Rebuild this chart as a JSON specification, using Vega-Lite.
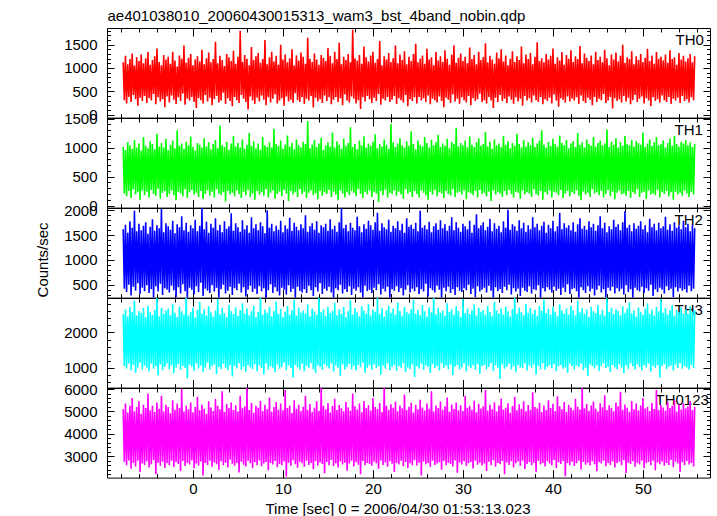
{
"$schema":"https://vega.github.io/schema/vega-lite/v6.json",
"background":"white",
"padding":{"left":34,"top":8,"right":5,"bottom":5},
"spacing":0,
"bounds":"flush",
"config":{"view":{"stroke":"#000","strokeWidth":1},"axis":{"zindex":1,"domain":false,"grid":false,"tickColor":"#000","tickWidth":1,"labelFont":"Liberation Sans","labelFontSize":15,"labelColor":"#000","labelFlush":false,"format":"d","titleFont":"Liberation Sans","titleFontSize":15,"titleFontWeight":"normal","titleColor":"#000"}},
"datasets":{"rows":[
{"t":-7.75,"a":1120,"b":1010,"c":1620,"d":2520,"e":5100},
{"t":-7.625,"a":310,"b":210,"c":420,"d":1050,"e":2750},
{"t":-7.5,"a":1260,"b":960,"c":1710,"d":2650,"e":5350},
{"t":-7.375,"a":240,"b":160,"c":350,"d":980,"e":2600},
{"t":-7.25,"a":1080,"b":1090,"c":1550,"d":2450,"e":4950},
{"t":-7.125,"a":380,"b":250,"c":500,"d":1120,"e":2820},
{"t":-7,"a":1190,"b":1040,"c":1780,"d":2720,"e":5250},
{"t":-6.875,"a":270,"b":130,"c":280,"d":920,"e":2450},
{"t":-6.75,"a":1310,"b":980,"c":1650,"d":2580,"e":5600},
{"t":-6.625,"a":420,"b":280,"c":460,"d":1080,"e":2700},
{"t":-6.5,"a":1050,"b":1130,"c":1990,"d":2900,"e":5000},
{"t":-6.375,"a":330,"b":190,"c":380,"d":860,"e":2550},
{"t":-6.25,"a":1230,"b":1000,"c":1580,"d":2480,"e":5200},
{"t":-6.125,"a":190,"b":230,"c":530,"d":1010,"e":2800},
{"t":-6,"a":1150,"b":1070,"c":1730,"d":2610,"e":5450},
{"t":-5.875,"a":360,"b":100,"c":310,"d":1140,"e":2300},
{"t":-5.75,"a":1290,"b":950,"c":1600,"d":2550,"e":4900},
{"t":-5.625,"a":290,"b":260,"c":440,"d":950,"e":2680},
{"t":-5.5,"a":1100,"b":1180,"c":1690,"d":2690,"e":5300},
{"t":-5.375,"a":400,"b":180,"c":370,"d":1060,"e":2620},
{"t":-5.25,"a":1210,"b":1030,"c":1760,"d":2430,"e":5150},
{"t":-5.125,"a":250,"b":240,"c":490,"d":1000,"e":2780},
{"t":-5,"a":1340,"b":990,"c":1530,"d":2760,"e":5800},
{"t":-4.875,"a":350,"b":140,"c":330,"d":890,"e":2500},
{"t":-4.75,"a":1070,"b":1110,"c":1670,"d":2570,"e":5050},
{"t":-4.625,"a":300,"b":270,"c":410,"d":1110,"e":2650},
{"t":-4.5,"a":1170,"b":1060,"c":1820,"d":2500,"e":5250},
{"t":-4.375,"a":440,"b":200,"c":220,"d":970,"e":2840},
{"t":-4.25,"a":1250,"b":970,"c":1590,"d":2640,"e":4980},
{"t":-4.125,"a":220,"b":170,"c":470,"d":1040,"e":2200},
{"t":-4,"a":1420,"b":1240,"c":1700,"d":2980,"e":5400},
{"t":-3.875,"a":370,"b":290,"c":360,"d":780,"e":2720},
{"t":-3.75,"a":1130,"b":1020,"c":1640,"d":2460,"e":5120},
{"t":-3.625,"a":280,"b":120,"c":520,"d":1090,"e":2580},
{"t":-3.5,"a":1060,"b":1080,"c":2030,"d":2700,"e":5700},
{"t":-3.375,"a":330,"b":220,"c":290,"d":930,"e":2760},
{"t":-3.25,"a":1280,"b":1000,"c":1560,"d":2530,"e":5000},
{"t":-3.125,"a":160,"b":250,"c":430,"d":1020,"e":2480},
{"t":-3,"a":1180,"b":1150,"c":1740,"d":2620,"e":5300},
{"t":-2.875,"a":390,"b":150,"c":400,"d":1130,"e":2690},
{"t":-2.75,"a":1240,"b":960,"c":1680,"d":2680,"e":5200},
{"t":-2.625,"a":260,"b":200,"c":340,"d":960,"e":2610},
{"t":-2.5,"a":1090,"b":1050,"c":1610,"d":2490,"e":4920},
{"t":-2.375,"a":410,"b":260,"c":480,"d":1070,"e":2800},
{"t":-2.25,"a":1350,"b":1120,"c":1790,"d":2810,"e":5500},
{"t":-2.125,"a":320,"b":180,"c":390,"d":840,"e":2530},
{"t":-2,"a":1160,"b":990,"c":1540,"d":2560,"e":5080},
{"t":-1.875,"a":230,"b":90,"c":250,"d":1010,"e":2740},
{"t":-1.75,"a":1030,"b":1300,"c":1720,"d":2440,"e":5350},
{"t":-1.625,"a":370,"b":240,"c":450,"d":1100,"e":2660},
{"t":-1.5,"a":1270,"b":1030,"c":1660,"d":2730,"e":5150},
{"t":-1.375,"a":290,"b":210,"c":320,"d":940,"e":2350},
{"t":-1.25,"a":1200,"b":1070,"c":1880,"d":2600,"e":6000},
{"t":-1.125,"a":450,"b":160,"c":510,"d":1050,"e":2790},
{"t":-1,"a":1480,"b":980,"c":1600,"d":2510,"e":5000},
{"t":-0.875,"a":210,"b":280,"c":370,"d":990,"e":2570},
{"t":-0.75,"a":1110,"b":1100,"c":1750,"d":3050,"e":5250},
{"t":-0.625,"a":340,"b":130,"c":190,"d":700,"e":2710},
{"t":-0.5,"a":1220,"b":1040,"c":1570,"d":2470,"e":5100},
{"t":-0.375,"a":300,"b":230,"c":440,"d":1080,"e":2640},
{"t":-0.25,"a":1300,"b":1190,"c":1700,"d":2590,"e":5400},
{"t":-0.125,"a":380,"b":270,"c":400,"d":1030,"e":2830},
{"t":0,"a":1060,"b":1010,"c":1640,"d":2700,"e":4960},
{"t":0.125,"a":270,"b":190,"c":300,"d":910,"e":2460},
{"t":0.25,"a":1180,"b":950,"c":1810,"d":2420,"e":5200},
{"t":0.375,"a":140,"b":220,"c":470,"d":1120,"e":2680},
{"t":0.5,"a":1250,"b":1080,"c":1580,"d":2640,"e":5650},
{"t":0.625,"a":350,"b":150,"c":350,"d":980,"e":2590},
{"t":0.75,"a":1140,"b":1050,"c":1690,"d":2870,"e":5050},
{"t":0.875,"a":310,"b":250,"c":540,"d":1060,"e":2770},
{"t":1,"a":1390,"b":1000,"c":2050,"d":2530,"e":5300},
{"t":1.125,"a":240,"b":110,"c":270,"d":870,"e":2150},
{"t":1.25,"a":1080,"b":1160,"c":1620,"d":2660,"e":5120},
{"t":1.375,"a":420,"b":200,"c":420,"d":1000,"e":2700},
{"t":1.5,"a":1210,"b":1020,"c":1770,"d":2480,"e":4900},
{"t":1.625,"a":280,"b":260,"c":380,"d":1140,"e":2620},
{"t":1.75,"a":1330,"b":1090,"c":1550,"d":2740,"e":5450},
{"t":1.875,"a":360,"b":170,"c":330,"d":950,"e":2810},
{"t":2,"a":1120,"b":970,"c":1730,"d":2570,"e":5180},
{"t":2.125,"a":200,"b":240,"c":490,"d":1040,"e":2540},
{"t":2.25,"a":1190,"b":1060,"c":1650,"d":2450,"e":5020},
{"t":2.375,"a":330,"b":140,"c":360,"d":1090,"e":2730},
{"t":2.5,"a":1560,"b":1130,"c":1840,"d":2620,"e":5550},
{"t":2.625,"a":400,"b":280,"c":440,"d":820,"e":2650},
{"t":2.75,"a":1100,"b":990,"c":1600,"d":2950,"e":5250},
{"t":2.875,"a":260,"b":210,"c":210,"d":1020,"e":2400},
{"t":3,"a":1260,"b":1380,"c":1710,"d":2510,"e":5100},
{"t":3.125,"a":300,"b":180,"c":410,"d":960,"e":2780},
{"t":3.25,"a":1170,"b":1040,"c":1560,"d":2690,"e":5900},
{"t":3.375,"a":470,"b":230,"c":500,"d":1110,"e":2600},
{"t":3.5,"a":1040,"b":1010,"c":1780,"d":2550,"e":4980},
{"t":3.625,"a":230,"b":70,"c":320,"d":1000,"e":2720},
{"t":3.75,"a":1300,"b":1100,"c":1630,"d":2440,"e":5330},
{"t":3.875,"a":350,"b":250,"c":380,"d":930,"e":2510},
{"t":4,"a":1230,"b":960,"c":1680,"d":2780,"e":5150},
{"t":4.125,"a":290,"b":190,"c":460,"d":1070,"e":2850},
{"t":4.25,"a":1150,"b":1070,"c":1940,"d":2600,"e":5400},
{"t":4.375,"a":180,"b":220,"c":290,"d":750,"e":2670},
{"t":4.5,"a":1370,"b":1200,"c":1590,"d":2520,"e":5060},
{"t":4.625,"a":380,"b":160,"c":430,"d":1050,"e":2580},
{"t":4.75,"a":1090,"b":1020,"c":1740,"d":2710,"e":5280},
{"t":4.875,"a":310,"b":260,"c":390,"d":980,"e":2700},
{"t":5,"a":1240,"b":1080,"c":1660,"d":2470,"e":5000},
{"t":5.125,"a":250,"b":200,"c":520,"d":1130,"e":2280},
{"t":5.25,"a":1800,"b":1000,"c":1570,"d":2630,"e":5700},
{"t":5.375,"a":420,"b":130,"c":340,"d":940,"e":2760},
{"t":5.5,"a":1130,"b":1140,"c":1800,"d":2830,"e":5140},
{"t":5.625,"a":340,"b":240,"c":450,"d":1030,"e":2630},
{"t":5.75,"a":1280,"b":980,"c":1620,"d":2540,"e":5220},
{"t":5.875,"a":270,"b":180,"c":260,"d":880,"e":2550},
{"t":6,"a":1200,"b":1050,"c":1700,"d":2680,"e":6100},
{"t":6.125,"a":110,"b":270,"c":400,"d":1080,"e":2800},
{"t":6.25,"a":1060,"b":1250,"c":1550,"d":2490,"e":5060},
{"t":6.375,"a":390,"b":150,"c":480,"d":1010,"e":2690},
{"t":6.5,"a":1450,"b":1030,"c":1860,"d":2600,"e":5380},
{"t":6.625,"a":300,"b":210,"c":350,"d":960,"e":2470},
{"t":6.75,"a":1170,"b":1110,"c":1640,"d":2760,"e":4940},
{"t":6.875,"a":230,"b":100,"c":420,"d":1100,"e":2740},
{"t":7,"a":1250,"b":990,"c":1720,"d":2430,"e":5250},
{"t":7.125,"a":360,"b":250,"c":310,"d":900,"e":2610},
{"t":7.25,"a":1320,"b":1070,"c":1600,"d":2580,"e":5160},
{"t":7.375,"a":280,"b":190,"c":470,"d":1060,"e":2820},
{"t":7.5,"a":1110,"b":960,"c":1760,"d":3000,"e":5480},
{"t":7.625,"a":410,"b":230,"c":370,"d":990,"e":2560},
{"t":7.75,"a":1190,"b":1180,"c":1680,"d":2500,"e":5020},
{"t":7.875,"a":320,"b":170,"c":430,"d":810,"e":2680},
{"t":8,"a":1600,"b":1040,"c":1540,"d":2650,"e":5300},
{"t":8.125,"a":200,"b":280,"c":180,"d":1120,"e":2750},
{"t":8.25,"a":1080,"b":1010,"c":2000,"d":2560,"e":5100},
{"t":8.375,"a":370,"b":140,"c":390,"d":950,"e":2380},
{"t":8.5,"a":1230,"b":1090,"c":1650,"d":2720,"e":5620},
{"t":8.625,"a":260,"b":220,"c":510,"d":1040,"e":2710},
{"t":8.75,"a":1350,"b":1000,"c":1730,"d":2460,"e":4990},
{"t":8.875,"a":340,"b":260,"c":330,"d":1000,"e":2640},
{"t":9,"a":1140,"b":1320,"c":1580,"d":2610,"e":5200},
{"t":9.125,"a":430,"b":120,"c":450,"d":870,"e":2790},
{"t":9.25,"a":1260,"b":1060,"c":1690,"d":2880,"e":5420},
{"t":9.375,"a":240,"b":200,"c":360,"d":1090,"e":2520},
{"t":9.5,"a":1070,"b":1030,"c":1610,"d":2530,"e":5080},
{"t":9.625,"a":300,"b":240,"c":280,"d":970,"e":2660},
{"t":9.75,"a":1500,"b":1120,"c":1790,"d":2670,"e":5350},
{"t":9.875,"a":350,"b":160,"c":440,"d":1020,"e":2600},
{"t":10,"a":1180,"b":980,"c":1560,"d":2440,"e":5050},
{"t":10.125,"a":190,"b":270,"c":400,"d":1140,"e":2770},
{"t":10.25,"a":1290,"b":1050,"c":1700,"d":2590,"e":5950},
{"t":10.375,"a":390,"b":210,"c":300,"d":930,"e":2100},
{"t":10.5,"a":1120,"b":1210,"c":1630,"d":2750,"e":5150},
{"t":10.625,"a":280,"b":80,"c":490,"d":1060,"e":2720},
{"t":10.75,"a":1210,"b":1020,"c":1850,"d":2510,"e":5260},
{"t":10.875,"a":320,"b":250,"c":350,"d":990,"e":2580},
{"t":11,"a":1400,"b":1080,"c":1590,"d":2630,"e":4930},
{"t":11.125,"a":250,"b":190,"c":420,"d":720,"e":2830},
{"t":11.25,"a":1050,"b":970,"c":1750,"d":2930,"e":5500},
{"t":11.375,"a":460,"b":230,"c":230,"d":1080,"e":2650},
{"t":11.5,"a":1270,"b":1140,"c":1670,"d":2480,"e":5120},
{"t":11.625,"a":310,"b":150,"c":460,"d":1010,"e":2490},
{"t":11.75,"a":1160,"b":1040,"c":1600,"d":2700,"e":5300},
{"t":11.875,"a":270,"b":280,"c":380,"d":950,"e":2760},
{"t":12,"a":1330,"b":1000,"c":1720,"d":2560,"e":5020},
{"t":12.125,"a":370,"b":200,"c":340,"d":1110,"e":2690},
{"t":12.25,"a":1240,"b":1100,"c":1640,"d":2620,"e":5210},
{"t":12.375,"a":230,"b":240,"c":410,"d":900,"e":2540},
{"t":12.5,"a":1090,"b":1060,"c":1900,"d":2540,"e":5700},
{"t":12.625,"a":340,"b":130,"c":330,"d":1050,"e":2800},
{"t":12.75,"a":1650,"b":1460,"c":1570,"d":2790,"e":5080},
{"t":12.875,"a":300,"b":220,"c":480,"d":1000,"e":2620},
{"t":13,"a":1200,"b":990,"c":1680,"d":2450,"e":5330},
{"t":13.125,"a":400,"b":260,"c":390,"d":1130,"e":2700},
{"t":13.25,"a":1130,"b":1050,"c":1740,"d":2680,"e":4970},
{"t":13.375,"a":150,"b":180,"c":270,"d":960,"e":2430},
{"t":13.5,"a":1310,"b":1130,"c":1610,"d":2600,"e":5160},
{"t":13.625,"a":360,"b":210,"c":450,"d":850,"e":2780},
{"t":13.75,"a":1180,"b":1010,"c":1780,"d":2500,"e":5450},
{"t":13.875,"a":280,"b":110,"c":360,"d":1070,"e":2590},
{"t":14,"a":1070,"b":1070,"c":1550,"d":3060,"e":5030},
{"t":14.125,"a":330,"b":250,"c":530,"d":1020,"e":2730},
{"t":14.25,"a":1280,"b":1170,"c":1700,"d":2570,"e":6050},
{"t":14.375,"a":250,"b":170,"c":310,"d":940,"e":2660},
{"t":14.5,"a":1220,"b":960,"c":1660,"d":2650,"e":5250},
{"t":14.625,"a":410,"b":230,"c":420,"d":1100,"e":2250},
{"t":14.75,"a":1150,"b":1040,"c":1730,"d":2470,"e":5100},
{"t":14.875,"a":290,"b":200,"c":380,"d":1040,"e":2750},
{"t":15,"a":1430,"b":1090,"c":1590,"d":2730,"e":5380},
{"t":15.125,"a":370,"b":270,"c":460,"d":980,"e":2610},
{"t":15.25,"a":1260,"b":1020,"c":1820,"d":2550,"e":4950},
{"t":15.375,"a":220,"b":150,"c":340,"d":1120,"e":2840},
{"t":15.5,"a":1100,"b":1260,"c":1620,"d":2610,"e":5240},
{"t":15.625,"a":320,"b":240,"c":200,"d":890,"e":2570},
{"t":15.75,"a":1350,"b":1000,"c":1690,"d":2840,"e":5560},
{"t":15.875,"a":380,"b":190,"c":430,"d":1060,"e":2690},
{"t":16,"a":1190,"b":1110,"c":1570,"d":2490,"e":5060},
{"t":16.125,"a":270,"b":90,"c":390,"d":1000,"e":2500},
{"t":16.25,"a":1540,"b":1050,"c":1760,"d":2660,"e":5290},
{"t":16.375,"a":350,"b":260,"c":500,"d":770,"e":2770},
{"t":16.5,"a":1080,"b":980,"c":2040,"d":2530,"e":5140},
{"t":16.625,"a":200,"b":210,"c":320,"d":1090,"e":2640},
{"t":16.75,"a":1240,"b":1150,"c":1640,"d":2720,"e":5010},
{"t":16.875,"a":430,"b":140,"c":410,"d":950,"e":2720},
{"t":17,"a":1170,"b":1030,"c":1710,"d":2440,"e":5420},
{"t":17.125,"a":300,"b":230,"c":350,"d":1030,"e":2360},
{"t":17.25,"a":1300,"b":1080,"c":1580,"d":2600,"e":5180},
{"t":17.375,"a":260,"b":180,"c":470,"d":1110,"e":2680},
{"t":17.5,"a":1120,"b":1350,"c":1750,"d":2910,"e":5030},
{"t":17.625,"a":390,"b":250,"c":290,"d":960,"e":2800},
{"t":17.75,"a":1820,"b":1010,"c":1650,"d":2510,"e":5800},
{"t":17.875,"a":340,"b":220,"c":420,"d":1050,"e":2550},
{"t":18,"a":1210,"b":1060,"c":1600,"d":2690,"e":5230},
{"t":18.125,"a":240,"b":160,"c":380,"d":920,"e":2740},
{"t":18.25,"a":1160,"b":970,"c":1870,"d":2570,"e":5090},
{"t":18.375,"a":310,"b":280,"c":450,"d":1080,"e":2630},
{"t":18.5,"a":1280,"b":1120,"c":1680,"d":2460,"e":5350},
{"t":18.625,"a":120,"b":200,"c":340,"d":1010,"e":2200},
{"t":18.75,"a":1090,"b":1040,"c":1560,"d":2740,"e":4960},
{"t":18.875,"a":370,"b":130,"c":240,"d":1140,"e":2790},
{"t":19,"a":1460,"b":1190,"c":1720,"d":2620,"e":5470},
{"t":19.125,"a":280,"b":240,"c":480,"d":860,"e":2600},
{"t":19.25,"a":1230,"b":1000,"c":1630,"d":2540,"e":5150},
{"t":19.375,"a":400,"b":190,"c":370,"d":1000,"e":2710},
{"t":19.5,"a":1140,"b":1070,"c":1790,"d":2800,"e":5280},
{"t":19.625,"a":330,"b":260,"c":400,"d":1070,"e":2660},
{"t":19.75,"a":1270,"b":1030,"c":1700,"d":2480,"e":5040},
{"t":19.875,"a":250,"b":150,"c":330,"d":940,"e":2580},
{"t":20,"a":1350,"b":1100,"c":1610,"d":2650,"e":5600},
{"t":20.125,"a":360,"b":230,"c":440,"d":1100,"e":2760},
{"t":20.25,"a":1110,"b":1230,"c":1760,"d":2590,"e":5200},
{"t":20.375,"a":290,"b":210,"c":390,"d":990,"e":2690},
{"t":20.5,"a":1190,"b":990,"c":1950,"d":2990,"e":5110},
{"t":20.625,"a":440,"b":60,"c":510,"d":1040,"e":2450},
{"t":20.75,"a":1580,"b":1060,"c":1590,"d":2520,"e":5380},
{"t":20.875,"a":210,"b":250,"c":300,"d":800,"e":2820},
{"t":21,"a":1060,"b":1020,"c":1740,"d":2700,"e":4980},
{"t":21.125,"a":340,"b":180,"c":420,"d":1060,"e":2620},
{"t":21.25,"a":1250,"b":1140,"c":1660,"d":2450,"e":6100},
{"t":21.375,"a":300,"b":270,"c":360,"d":970,"e":2730},
{"t":21.5,"a":1180,"b":1050,"c":1620,"d":2630,"e":5250},
{"t":21.625,"a":380,"b":140,"c":460,"d":1120,"e":2540},
{"t":21.75,"a":1320,"b":980,"c":1810,"d":2760,"e":5070},
{"t":21.875,"a":270,"b":220,"c":190,"d":930,"e":2780},
{"t":22,"a":1130,"b":1410,"c":1570,"d":2560,"e":5320},
{"t":22.125,"a":320,"b":200,"c":410,"d":1020,"e":2670},
{"t":22.25,"a":1210,"b":1090,"c":1690,"d":2680,"e":5160},
{"t":22.375,"a":400,"b":260,"c":380,"d":1080,"e":2300},
{"t":22.5,"a":1480,"b":1010,"c":1640,"d":2500,"e":5430},
{"t":22.625,"a":230,"b":170,"c":470,"d":910,"e":2710},
{"t":22.75,"a":1100,"b":1070,"c":1780,"d":2850,"e":5010},
{"t":22.875,"a":350,"b":240,"c":350,"d":1050,"e":2640},
{"t":23,"a":1290,"b":1160,"c":1600,"d":2610,"e":5270},
{"t":23.125,"a":310,"b":190,"c":430,"d":1000,"e":2800},
{"t":23.25,"a":1170,"b":1040,"c":1730,"d":2470,"e":5140},
{"t":23.375,"a":260,"b":120,"c":280,"d":1130,"e":2560},
{"t":23.5,"a":1360,"b":1000,"c":1550,"d":2720,"e":5750},
{"t":23.625,"a":420,"b":280,"c":400,"d":880,"e":2750},
{"t":23.75,"a":1080,"b":1110,"c":1840,"d":2580,"e":5060},
{"t":23.875,"a":180,"b":210,"c":490,"d":1010,"e":2480},
{"t":24,"a":1240,"b":1030,"c":1670,"d":2540,"e":5210},
{"t":24.125,"a":330,"b":230,"c":340,"d":960,"e":2690},
{"t":24.25,"a":1150,"b":1280,"c":1710,"d":2660,"e":5390},
{"t":24.375,"a":290,"b":150,"c":420,"d":1090,"e":2610},
{"t":24.5,"a":1300,"b":1060,"c":1630,"d":2920,"e":4950},
{"t":24.625,"a":370,"b":250,"c":370,"d":740,"e":2830},
{"t":24.75,"a":1520,"b":970,"c":1750,"d":2530,"e":5300},
{"t":24.875,"a":240,"b":200,"c":450,"d":1040,"e":2590},
{"t":25,"a":1120,"b":1120,"c":1580,"d":2640,"e":5100},
{"t":25.125,"a":380,"b":140,"c":310,"d":980,"e":2720},
{"t":25.25,"a":1200,"b":1050,"c":1990,"d":2490,"e":5520},
{"t":25.375,"a":300,"b":260,"c":410,"d":1110,"e":2150},
{"t":25.5,"a":1270,"b":1020,"c":1650,"d":2780,"e":5180},
{"t":25.625,"a":350,"b":220,"c":360,"d":940,"e":2770},
{"t":25.75,"a":1090,"b":1180,"c":1700,"d":2600,"e":5040},
{"t":25.875,"a":270,"b":180,"c":520,"d":1070,"e":2650},
{"t":26,"a":1410,"b":1080,"c":1620,"d":2450,"e":5350},
{"t":26.125,"a":410,"b":100,"c":260,"d":1020,"e":2700},
{"t":26.25,"a":1180,"b":1000,"c":1770,"d":2710,"e":5120},
{"t":26.375,"a":220,"b":240,"c":430,"d":850,"e":2530},
{"t":26.5,"a":1230,"b":1130,"c":1560,"d":2570,"e":5900},
{"t":26.625,"a":340,"b":190,"c":390,"d":1100,"e":2810},
{"t":26.75,"a":1060,"b":1040,"c":1680,"d":3020,"e":5000},
{"t":26.875,"a":310,"b":270,"c":340,"d":990,"e":2620},
{"t":27,"a":1340,"b":1090,"c":1740,"d":2510,"e":5260},
{"t":27.125,"a":260,"b":160,"c":480,"d":1050,"e":2680},
{"t":27.25,"a":1160,"b":1220,"c":1610,"d":2690,"e":5150},
{"t":27.375,"a":390,"b":230,"c":400,"d":920,"e":2740},
{"t":27.5,"a":1250,"b":1010,"c":1800,"d":2560,"e":5440},
{"t":27.625,"a":290,"b":210,"c":220,"d":1130,"e":2400},
{"t":27.75,"a":1130,"b":1070,"c":1640,"d":2620,"e":5070},
{"t":27.875,"a":160,"b":130,"c":440,"d":1000,"e":2790},
{"t":28,"a":1380,"b":1030,"c":1720,"d":2470,"e":5230},
{"t":28.125,"a":360,"b":250,"c":370,"d":1060,"e":2600},
{"t":28.25,"a":1200,"b":1150,"c":1590,"d":2830,"e":5620},
{"t":28.375,"a":320,"b":200,"c":460,"d":960,"e":2710},
{"t":28.5,"a":1070,"b":990,"c":1690,"d":2580,"e":4990},
{"t":28.625,"a":250,"b":170,"c":330,"d":1090,"e":2660},
{"t":28.75,"a":1290,"b":1100,"c":1860,"d":2660,"e":5310},
{"t":28.875,"a":430,"b":280,"c":410,"d":790,"e":2550},
{"t":29,"a":1490,"b":1060,"c":1600,"d":2500,"e":5110},
{"t":29.125,"a":280,"b":150,"c":290,"d":1030,"e":2820},
{"t":29.25,"a":1110,"b":1340,"c":1760,"d":2740,"e":5400},
{"t":29.375,"a":340,"b":220,"c":450,"d":1080,"e":2270},
{"t":29.5,"a":1220,"b":1020,"c":1650,"d":2610,"e":5050},
{"t":29.625,"a":230,"b":240,"c":380,"d":950,"e":2730},
{"t":29.75,"a":1310,"b":1080,"c":1570,"d":2440,"e":5280},
{"t":29.875,"a":370,"b":190,"c":350,"d":1010,"e":2640},
{"t":30,"a":1150,"b":1040,"c":1730,"d":2950,"e":5020},
{"t":30.125,"a":310,"b":260,"c":430,"d":1120,"e":2780},
{"t":30.25,"a":1240,"b":1120,"c":1680,"d":2550,"e":5700},
{"t":30.375,"a":260,"b":110,"c":390,"d":890,"e":2570},
{"t":30.5,"a":1100,"b":1000,"c":1620,"d":2680,"e":5160},
{"t":30.625,"a":400,"b":230,"c":500,"d":1050,"e":2690},
{"t":30.75,"a":1440,"b":1190,"c":1790,"d":2520,"e":5250},
{"t":30.875,"a":200,"b":210,"c":310,"d":990,"e":2750},
{"t":31,"a":1190,"b":1050,"c":1550,"d":2630,"e":5080},
{"t":31.125,"a":350,"b":180,"c":420,"d":1070,"e":2460},
{"t":31.25,"a":1280,"b":1010,"c":1710,"d":2790,"e":5480},
{"t":31.375,"a":290,"b":250,"c":250,"d":940,"e":2800},
{"t":31.5,"a":1080,"b":1090,"c":1920,"d":2480,"e":4960},
{"t":31.625,"a":330,"b":140,"c":470,"d":1100,"e":2630},
{"t":31.75,"a":1350,"b":1160,"c":1640,"d":2700,"e":5340},
{"t":31.875,"a":450,"b":270,"c":360,"d":830,"e":2720},
{"t":32,"a":1170,"b":1030,"c":1700,"d":2590,"e":5130},
{"t":32.125,"a":270,"b":200,"c":400,"d":1040,"e":2590},
{"t":32.25,"a":1230,"b":1060,"c":1760,"d":2640,"e":5220},
{"t":32.375,"a":310,"b":220,"c":440,"d":1080,"e":2680},
{"t":32.5,"a":1530,"b":1270,"c":1600,"d":2510,"e":5950},
{"t":32.625,"a":240,"b":160,"c":340,"d":960,"e":2350},
{"t":32.75,"a":1120,"b":1020,"c":1670,"d":2760,"e":5040},
{"t":32.875,"a":380,"b":240,"c":480,"d":1020,"e":2760},
{"t":33,"a":1260,"b":1100,"c":1830,"d":2570,"e":5300},
{"t":33.125,"a":300,"b":80,"c":380,"d":1130,"e":2610},
{"t":33.25,"a":1180,"b":980,"c":1580,"d":2460,"e":5100},
{"t":33.375,"a":140,"b":260,"c":210,"d":910,"e":2830},
{"t":33.5,"a":1090,"b":1140,"c":1740,"d":2870,"e":5410},
{"t":33.625,"a":360,"b":190,"c":450,"d":1060,"e":2540},
{"t":33.75,"a":1330,"b":1040,"c":1630,"d":2620,"e":5000},
{"t":33.875,"a":270,"b":230,"c":370,"d":1000,"e":2700},
{"t":34,"a":1210,"b":1070,"c":1690,"d":2540,"e":5260},
{"t":34.125,"a":420,"b":210,"c":410,"d":680,"e":2650},
{"t":34.25,"a":1400,"b":1010,"c":1560,"d":2680,"e":5580},
{"t":34.375,"a":290,"b":150,"c":330,"d":1090,"e":2790},
{"t":34.5,"a":1140,"b":1200,"c":1780,"d":2500,"e":5090},
{"t":34.625,"a":340,"b":250,"c":460,"d":970,"e":2200},
{"t":34.75,"a":1270,"b":1050,"c":1650,"d":2730,"e":5170},
{"t":34.875,"a":250,"b":180,"c":390,"d":1030,"e":2730},
{"t":35,"a":1060,"b":1110,"c":2010,"d":2600,"e":5360},
{"t":35.125,"a":390,"b":270,"c":500,"d":1110,"e":2620},
{"t":35.25,"a":1200,"b":990,"c":1610,"d":2450,"e":4940},
{"t":35.375,"a":320,"b":200,"c":300,"d":950,"e":2780},
{"t":35.5,"a":1360,"b":1080,"c":1720,"d":2660,"e":5240},
{"t":35.625,"a":230,"b":140,"c":430,"d":1040,"e":2510},
{"t":35.75,"a":1130,"b":1030,"c":1680,"d":3000,"e":5650},
{"t":35.875,"a":370,"b":240,"c":360,"d":870,"e":2690},
{"t":36,"a":1250,"b":1240,"c":1590,"d":2530,"e":5050},
{"t":36.125,"a":280,"b":220,"c":420,"d":1080,"e":2770},
{"t":36.25,"a":1170,"b":1060,"c":1800,"d":2700,"e":5320},
{"t":36.375,"a":340,"b":120,"c":270,"d":1010,"e":2580},
{"t":36.5,"a":1460,"b":1000,"c":1640,"d":2580,"e":5120},
{"t":36.625,"a":190,"b":260,"c":440,"d":990,"e":2810},
{"t":36.75,"a":1100,"b":1130,"c":1750,"d":2490,"e":5450},
{"t":36.875,"a":400,"b":190,"c":380,"d":1120,"e":2440},
{"t":37,"a":1290,"b":1020,"c":1570,"d":2810,"e":5010},
{"t":37.125,"a":300,"b":230,"c":350,"d":920,"e":2660},
{"t":37.25,"a":1190,"b":1090,"c":1700,"d":2560,"e":5290},
{"t":37.375,"a":350,"b":210,"c":470,"d":1060,"e":2750},
{"t":37.5,"a":1320,"b":1040,"c":1620,"d":2690,"e":5080},
{"t":37.625,"a":260,"b":150,"c":320,"d":1000,"e":2600},
{"t":37.75,"a":1080,"b":1170,"c":1860,"d":2520,"e":5850},
{"t":37.875,"a":410,"b":280,"c":410,"d":1090,"e":2720},
{"t":38,"a":1240,"b":1010,"c":1660,"d":2640,"e":5200},
{"t":38.125,"a":310,"b":200,"c":390,"d":810,"e":2290},
{"t":38.25,"a":1550,"b":1070,"c":1730,"d":2470,"e":5130},
{"t":38.375,"a":270,"b":170,"c":490,"d":1050,"e":2800},
{"t":38.5,"a":1150,"b":1120,"c":1600,"d":2750,"e":5390},
{"t":38.625,"a":380,"b":250,"c":230,"d":960,"e":2640},
{"t":38.75,"a":1210,"b":1300,"c":1690,"d":2610,"e":4980},
{"t":38.875,"a":220,"b":100,"c":430,"d":1130,"e":2700},
{"t":39,"a":1120,"b":1050,"c":1770,"d":2940,"e":5270},
{"t":39.125,"a":330,"b":230,"c":360,"d":940,"e":2550},
{"t":39.25,"a":1300,"b":1000,"c":1550,"d":2550,"e":5060},
{"t":39.375,"a":290,"b":190,"c":450,"d":1020,"e":2780},
{"t":39.5,"a":1180,"b":1100,"c":1710,"d":2670,"e":5500},
{"t":39.625,"a":360,"b":260,"c":400,"d":1070,"e":2680},
{"t":39.75,"a":1260,"b":1030,"c":1640,"d":2500,"e":5150},
{"t":39.875,"a":240,"b":140,"c":340,"d":990,"e":2610},
{"t":40,"a":1420,"b":1150,"c":1790,"d":2720,"e":5340},
{"t":40.125,"a":430,"b":240,"c":460,"d":1100,"e":2840},
{"t":40.25,"a":1090,"b":1060,"c":1580,"d":2590,"e":5020},
{"t":40.375,"a":300,"b":220,"c":380,"d":900,"e":2480},
{"t":40.5,"a":1230,"b":1020,"c":1680,"d":2460,"e":5680},
{"t":40.625,"a":170,"b":180,"c":420,"d":1040,"e":2730},
{"t":40.75,"a":1160,"b":1210,"c":1950,"d":2800,"e":5230},
{"t":40.875,"a":350,"b":270,"c":290,"d":1080,"e":2660},
{"t":41,"a":1340,"b":1080,"c":1620,"d":2630,"e":5100},
{"t":41.125,"a":320,"b":130,"c":440,"d":970,"e":2790},
{"t":41.25,"a":1070,"b":1040,"c":1740,"d":2540,"e":5420},
{"t":41.375,"a":260,"b":210,"c":350,"d":1010,"e":2120},
{"t":41.5,"a":1280,"b":1130,"c":1650,"d":2680,"e":4970},
{"t":41.625,"a":390,"b":250,"c":510,"d":860,"e":2700},
{"t":41.75,"a":1200,"b":990,"c":1700,"d":2510,"e":5300},
{"t":41.875,"a":280,"b":160,"c":310,"d":1110,"e":2620},
{"t":42,"a":1380,"b":1070,"c":1600,"d":2760,"e":5180},
{"t":42.125,"a":340,"b":230,"c":410,"d":1050,"e":2760},
{"t":42.25,"a":1130,"b":1110,"c":1760,"d":2620,"e":5050},
{"t":42.375,"a":300,"b":200,"c":430,"d":950,"e":2570},
{"t":42.5,"a":1250,"b":1010,"c":1570,"d":2480,"e":5560},
{"t":42.625,"a":370,"b":260,"c":370,"d":1060,"e":2690},
{"t":42.75,"a":1190,"b":1250,"c":1720,"d":2900,"e":5210},
{"t":42.875,"a":230,"b":170,"c":200,"d":1020,"e":2810},
{"t":43,"a":1470,"b":1050,"c":1840,"d":2570,"e":5090},
{"t":43.125,"a":410,"b":90,"c":450,"d":1120,"e":2420},
{"t":43.25,"a":1100,"b":1090,"c":1630,"d":2690,"e":6050},
{"t":43.375,"a":290,"b":240,"c":390,"d":930,"e":2750},
{"t":43.5,"a":1310,"b":1000,"c":1690,"d":2530,"e":5140},
{"t":43.625,"a":250,"b":190,"c":330,"d":1000,"e":2630},
{"t":43.75,"a":1220,"b":1140,"c":1610,"d":2650,"e":5330},
{"t":43.875,"a":360,"b":220,"c":470,"d":760,"e":2720},
{"t":44,"a":1150,"b":1060,"c":1780,"d":2440,"e":5030},
{"t":44.125,"a":320,"b":150,"c":360,"d":1090,"e":2590},
{"t":44.25,"a":1270,"b":1030,"c":1660,"d":2730,"e":5260},
{"t":44.375,"a":200,"b":280,"c":420,"d":1040,"e":2780},
{"t":44.5,"a":1080,"b":1180,"c":1730,"d":2600,"e":5440},
{"t":44.625,"a":380,"b":210,"c":280,"d":980,"e":2650},
{"t":44.75,"a":1350,"b":1020,"c":1590,"d":2550,"e":5120},
{"t":44.875,"a":270,"b":230,"c":400,"d":1070,"e":2340},
{"t":45,"a":1170,"b":1080,"c":1700,"d":2780,"e":5000},
{"t":45.125,"a":340,"b":180,"c":480,"d":910,"e":2740},
{"t":45.25,"a":1240,"b":1120,"c":1880,"d":2510,"e":5370},
{"t":45.375,"a":310,"b":250,"c":340,"d":1050,"e":2680},
{"t":45.5,"a":1120,"b":1040,"c":1640,"d":2640,"e":5190},
{"t":45.625,"a":440,"b":140,"c":410,"d":1130,"e":2800},
{"t":45.75,"a":1390,"b":1070,"c":1750,"d":2470,"e":5720},
{"t":45.875,"a":250,"b":200,"c":250,"d":990,"e":2560},
{"t":46,"a":1210,"b":1310,"c":1560,"d":2970,"e":5060},
{"t":46.125,"a":300,"b":270,"c":440,"d":1030,"e":2710},
{"t":46.25,"a":1060,"b":1010,"c":1680,"d":2580,"e":5280},
{"t":46.375,"a":380,"b":160,"c":380,"d":880,"e":2620},
{"t":46.5,"a":1290,"b":1100,"c":1620,"d":2700,"e":5150},
{"t":46.625,"a":130,"b":240,"c":460,"d":1080,"e":2770},
{"t":46.75,"a":1180,"b":1050,"c":1810,"d":2520,"e":5010},
{"t":46.875,"a":350,"b":110,"c":320,"d":1010,"e":2500},
{"t":47,"a":1330,"b":1160,"c":1670,"d":2660,"e":5400},
{"t":47.125,"a":290,"b":220,"c":430,"d":960,"e":2690},
{"t":47.25,"a":1140,"b":1000,"c":1720,"d":2610,"e":5230},
{"t":47.375,"a":330,"b":260,"c":370,"d":1100,"e":2760},
{"t":47.5,"a":1260,"b":1090,"c":1600,"d":2490,"e":5880},
{"t":47.625,"a":260,"b":190,"c":420,"d":1000,"e":2600},
{"t":47.75,"a":1500,"b":1030,"c":1760,"d":2740,"e":5080},
{"t":47.875,"a":400,"b":210,"c":300,"d":840,"e":2830},
{"t":48,"a":1110,"b":1200,"c":1980,"d":2560,"e":5310},
{"t":48.125,"a":280,"b":170,"c":490,"d":1060,"e":2250},
{"t":48.25,"a":1230,"b":1060,"c":1650,"d":2680,"e":5160},
{"t":48.375,"a":360,"b":250,"c":350,"d":970,"e":2720},
{"t":48.5,"a":1190,"b":1040,"c":1710,"d":2850,"e":4990},
{"t":48.625,"a":220,"b":130,"c":410,"d":1120,"e":2660},
{"t":48.75,"a":1360,"b":1130,"c":1580,"d":2540,"e":5470},
{"t":48.875,"a":310,"b":230,"c":190,"d":1040,"e":2780},
{"t":49,"a":1080,"b":1020,"c":1740,"d":2630,"e":5100},
{"t":49.125,"a":420,"b":200,"c":440,"d":950,"e":2540},
{"t":49.25,"a":1250,"b":1110,"c":1630,"d":2450,"e":5350},
{"t":49.375,"a":270,"b":280,"c":390,"d":1090,"e":2700},
{"t":49.5,"a":1170,"b":1080,"c":1690,"d":2710,"e":5040},
{"t":49.625,"a":340,"b":150,"c":360,"d":1020,"e":2640},
{"t":49.75,"a":1300,"b":1050,"c":1780,"d":2590,"e":5270},
{"t":49.875,"a":390,"b":220,"c":460,"d":930,"e":2810},
{"t":50,"a":1130,"b":1260,"c":1620,"d":2500,"e":5600},
{"t":50.125,"a":240,"b":240,"c":330,"d":1070,"e":2470},
{"t":50.25,"a":1220,"b":1010,"c":1700,"d":2670,"e":5130},
{"t":50.375,"a":350,"b":120,"c":430,"d":1010,"e":2690},
{"t":50.5,"a":1410,"b":1070,"c":1560,"d":2820,"e":5200},
{"t":50.625,"a":300,"b":260,"c":380,"d":1110,"e":2750},
{"t":50.75,"a":1150,"b":1140,"c":1830,"d":2530,"e":5020},
{"t":50.875,"a":180,"b":190,"c":500,"d":890,"e":2610},
{"t":51,"a":1270,"b":1030,"c":1660,"d":2650,"e":5380},
{"t":51.125,"a":370,"b":210,"c":270,"d":1050,"e":2800},
{"t":51.25,"a":1090,"b":1090,"c":1730,"d":2480,"e":5110},
{"t":51.375,"a":290,"b":180,"c":410,"d":990,"e":2380},
{"t":51.5,"a":1340,"b":1180,"c":1600,"d":2720,"e":5950},
{"t":51.625,"a":330,"b":270,"c":350,"d":1080,"e":2730},
{"t":51.75,"a":1200,"b":1040,"c":1750,"d":2600,"e":5060},
{"t":51.875,"a":260,"b":140,"c":440,"d":720,"e":2650},
{"t":52,"a":1240,"b":1060,"c":1640,"d":2950,"e":5290},
{"t":52.125,"a":410,"b":230,"c":400,"d":1040,"e":2770},
{"t":52.25,"a":1160,"b":1120,"c":1680,"d":2560,"e":5180},
{"t":52.375,"a":310,"b":200,"c":320,"d":1100,"e":2580},
{"t":52.5,"a":1290,"b":1000,"c":1870,"d":2690,"e":5040},
{"t":52.625,"a":270,"b":250,"c":470,"d":960,"e":2710},
{"t":52.75,"a":1110,"b":1080,"c":1610,"d":2510,"e":5430},
{"t":52.875,"a":380,"b":160,"c":390,"d":1030,"e":2620},
{"t":53,"a":1380,"b":1150,"c":1720,"d":2630,"e":5150},
{"t":53.125,"a":230,"b":230,"c":420,"d":1060,"e":2840},
{"t":53.25,"a":1190,"b":1030,"c":1590,"d":2770,"e":5250},
{"t":53.375,"a":340,"b":100,"c":240,"d":920,"e":2520},
{"t":53.5,"a":1230,"b":1200,"c":1760,"d":2470,"e":5520},
{"t":53.625,"a":300,"b":240,"c":450,"d":1090,"e":2760},
{"t":53.75,"a":1070,"b":1060,"c":1650,"d":2640,"e":5000},
{"t":53.875,"a":360,"b":190,"c":360,"d":1000,"e":2680},
{"t":54,"a":1320,"b":1020,"c":1700,"d":2580,"e":5310},
{"t":54.125,"a":250,"b":220,"c":430,"d":1130,"e":2300},
{"t":54.25,"a":1180,"b":1100,"c":1620,"d":2700,"e":5090},
{"t":54.375,"a":400,"b":170,"c":380,"d":970,"e":2740},
{"t":54.5,"a":1260,"b":1070,"c":1790,"d":2540,"e":5360},
{"t":54.625,"a":290,"b":260,"c":410,"d":1050,"e":2600},
{"t":54.75,"a":1140,"b":1130,"c":1660,"d":2660,"e":5140},
{"t":54.875,"a":330,"b":210,"c":340,"d":1010,"e":2790},
{"t":55,"a":1210,"b":1040,"c":1730,"d":2520,"e":5230},
{"t":55.125,"a":260,"b":150,"c":480,"d":940,"e":2640},
{"t":55.25,"a":1300,"b":1090,"c":1580,"d":2740,"e":5470},
{"t":55.375,"a":370,"b":240,"c":370,"d":1080,"e":2700},
{"t":55.5,"a":1120,"b":1010,"c":1710,"d":2590,"e":5060},
{"t":55.625,"a":310,"b":190,"c":420,"d":990,"e":2550},
{"t":55.75,"a":1250,"b":1060,"c":1640,"d":2630,"e":5200}
]},
"data":{"name":"rows"},
"vconcat":[
{"width":603,"height":89.6,
"layer":[
{"mark":{"type":"line","color":"#ff0000","strokeWidth":1.6,"clip":true},
"encoding":{"x":{"field":"t","type":"quantitative","scale":{"domain":[-9.55,57.45],"nice":false,"zero":false},"axis":{"orient":"bottom","values":[0,10,20,30,40,50],"tickSize":-8,"labels":false,"title":null}},
"y":{"field":"a","type":"quantitative","scale":{"domain":[-65,1858],"nice":false,"zero":false},"axis":{"orient":"left","values":[0,500,1000,1500],"tickSize":-7,"labelPadding":17,"title":null}}}},
{"transform":[{"filter":"datum.t === 0"}],"mark":{"type":"point","opacity":0},
"encoding":{"x":{"field":"t","type":"quantitative","scale":{"domain":[-9.55,57.45],"nice":false,"zero":false},"axis":{"orient":"bottom","values":[-8,-6,-4,-2,0,2,4,6,8,10,12,14,16,18,20,22,24,26,28,30,32,34,36,38,40,42,44,46,48,50,52,54,56],"tickSize":-4,"labels":false,"title":null}},
"y":{"field":"a","type":"quantitative","scale":{"domain":[-65,1858],"nice":false,"zero":false},"axis":{"orient":"left","values":[0,100,200,300,400,500,600,700,800,900,1000,1100,1200,1300,1400,1500,1600,1700,1800],"tickSize":-3.5,"labels":false,"title":null}}}},
{"transform":[{"filter":"datum.t === 0"}],"mark":{"type":"point","opacity":0},
"encoding":{"x":{"field":"t","type":"quantitative","scale":{"domain":[-9.55,57.45],"nice":false,"zero":false},"axis":{"orient":"top","values":[0,10,20,30,40,50],"tickSize":-8,"labels":false,"title":"ae401038010_20060430015313_wam3_bst_4band_nobin.qdp","titleX":0,"titleY":-7.5,"titleAlign":"left","titleBaseline":"alphabetic"}},
"y":{"field":"a","type":"quantitative","scale":{"domain":[-65,1858],"nice":false,"zero":false},"axis":{"orient":"right","values":[0,500,1000,1500],"tickSize":-7,"labels":false,"title":null}}}},
{"transform":[{"filter":"datum.t === 0"}],"mark":{"type":"point","opacity":0},
"encoding":{"x":{"field":"t","type":"quantitative","scale":{"domain":[-9.55,57.45],"nice":false,"zero":false},"axis":{"orient":"top","values":[-8,-6,-4,-2,0,2,4,6,8,10,12,14,16,18,20,22,24,26,28,30,32,34,36,38,40,42,44,46,48,50,52,54,56],"tickSize":-4,"labels":false,"title":"TH0","titleX":568,"titleY":16,"titleAlign":"left","titleBaseline":"alphabetic"}},
"y":{"field":"a","type":"quantitative","scale":{"domain":[-65,1858],"nice":false,"zero":false},"axis":{"orient":"right","values":[0,100,200,300,400,500,600,700,800,900,1000,1100,1200,1300,1400,1500,1600,1700,1800],"tickSize":-3.5,"labels":false,"title":null}}}}
],
"resolve":{"axis":{"x":"independent","y":"independent"}}},
{"width":603,"height":89.6,
"layer":[
{"mark":{"type":"line","color":"#00ff00","strokeWidth":1.6,"clip":true},
"encoding":{"x":{"field":"t","type":"quantitative","scale":{"domain":[-9.55,57.45],"nice":false,"zero":false},"axis":{"orient":"bottom","values":[0,10,20,30,40,50],"tickSize":-8,"labels":false,"title":null}},
"y":{"field":"b","type":"quantitative","scale":{"domain":[-35,1510],"nice":false,"zero":false},"axis":{"orient":"left","values":[0,500,1000,1500],"tickSize":-7,"labelPadding":17,"title":null}}}},
{"transform":[{"filter":"datum.t === 0"}],"mark":{"type":"point","opacity":0},
"encoding":{"x":{"field":"t","type":"quantitative","scale":{"domain":[-9.55,57.45],"nice":false,"zero":false},"axis":{"orient":"bottom","values":[-8,-6,-4,-2,0,2,4,6,8,10,12,14,16,18,20,22,24,26,28,30,32,34,36,38,40,42,44,46,48,50,52,54,56],"tickSize":-4,"labels":false,"title":null}},
"y":{"field":"b","type":"quantitative","scale":{"domain":[-35,1510],"nice":false,"zero":false},"axis":{"orient":"left","values":[0,100,200,300,400,500,600,700,800,900,1000,1100,1200,1300,1400,1500],"tickSize":-3.5,"labels":false,"title":null}}}},
{"transform":[{"filter":"datum.t === 0"}],"mark":{"type":"point","opacity":0},
"encoding":{"x":{"field":"t","type":"quantitative","scale":{"domain":[-9.55,57.45],"nice":false,"zero":false},"axis":{"orient":"top","values":[0,10,20,30,40,50],"tickSize":-8,"labels":false,"title":null}},
"y":{"field":"b","type":"quantitative","scale":{"domain":[-35,1510],"nice":false,"zero":false},"axis":{"orient":"right","values":[0,500,1000,1500],"tickSize":-7,"labels":false,"title":null}}}},
{"transform":[{"filter":"datum.t === 0"}],"mark":{"type":"point","opacity":0},
"encoding":{"x":{"field":"t","type":"quantitative","scale":{"domain":[-9.55,57.45],"nice":false,"zero":false},"axis":{"orient":"top","values":[-8,-6,-4,-2,0,2,4,6,8,10,12,14,16,18,20,22,24,26,28,30,32,34,36,38,40,42,44,46,48,50,52,54,56],"tickSize":-4,"labels":false,"title":"TH1","titleX":567,"titleY":16,"titleAlign":"left","titleBaseline":"alphabetic"}},
"y":{"field":"b","type":"quantitative","scale":{"domain":[-35,1510],"nice":false,"zero":false},"axis":{"orient":"right","values":[0,100,200,300,400,500,600,700,800,900,1000,1100,1200,1300,1400,1500],"tickSize":-3.5,"labels":false,"title":null}}}}
],
"resolve":{"axis":{"x":"independent","y":"independent"}}},
{"width":603,"height":89.6,
"layer":[
{"mark":{"type":"line","color":"#0000ff","strokeWidth":1.6,"clip":true},
"encoding":{"x":{"field":"t","type":"quantitative","scale":{"domain":[-9.55,57.45],"nice":false,"zero":false},"axis":{"orient":"bottom","values":[0,10,20,30,40,50],"tickSize":-8,"labels":false,"title":null}},
"y":{"field":"c","type":"quantitative","scale":{"domain":[239,2048],"nice":false,"zero":false},"axis":{"orient":"left","values":[500,1000,1500,2000],"tickSize":-7,"labelPadding":17,"title":"Counts/sec","titleX":-65,"titleY":51.4,"titleAngle":270,"titleAlign":"center","titleBaseline":"middle"}}}},
{"transform":[{"filter":"datum.t === 0"}],"mark":{"type":"point","opacity":0},
"encoding":{"x":{"field":"t","type":"quantitative","scale":{"domain":[-9.55,57.45],"nice":false,"zero":false},"axis":{"orient":"bottom","values":[-8,-6,-4,-2,0,2,4,6,8,10,12,14,16,18,20,22,24,26,28,30,32,34,36,38,40,42,44,46,48,50,52,54,56],"tickSize":-4,"labels":false,"title":null}},
"y":{"field":"c","type":"quantitative","scale":{"domain":[239,2048],"nice":false,"zero":false},"axis":{"orient":"left","values":[300,400,500,600,700,800,900,1000,1100,1200,1300,1400,1500,1600,1700,1800,1900,2000],"tickSize":-3.5,"labels":false,"title":null}}}},
{"transform":[{"filter":"datum.t === 0"}],"mark":{"type":"point","opacity":0},
"encoding":{"x":{"field":"t","type":"quantitative","scale":{"domain":[-9.55,57.45],"nice":false,"zero":false},"axis":{"orient":"top","values":[0,10,20,30,40,50],"tickSize":-8,"labels":false,"title":null}},
"y":{"field":"c","type":"quantitative","scale":{"domain":[239,2048],"nice":false,"zero":false},"axis":{"orient":"right","values":[500,1000,1500,2000],"tickSize":-7,"labels":false,"title":null}}}},
{"transform":[{"filter":"datum.t === 0"}],"mark":{"type":"point","opacity":0},
"encoding":{"x":{"field":"t","type":"quantitative","scale":{"domain":[-9.55,57.45],"nice":false,"zero":false},"axis":{"orient":"top","values":[-8,-6,-4,-2,0,2,4,6,8,10,12,14,16,18,20,22,24,26,28,30,32,34,36,38,40,42,44,46,48,50,52,54,56],"tickSize":-4,"labels":false,"title":"TH2","titleX":567,"titleY":16,"titleAlign":"left","titleBaseline":"alphabetic"}},
"y":{"field":"c","type":"quantitative","scale":{"domain":[239,2048],"nice":false,"zero":false},"axis":{"orient":"right","values":[300,400,500,600,700,800,900,1000,1100,1200,1300,1400,1500,1600,1700,1800,1900,2000],"tickSize":-3.5,"labels":false,"title":null}}}}
],
"resolve":{"axis":{"x":"independent","y":"independent"}}},
{"width":603,"height":89.6,
"layer":[
{"mark":{"type":"line","color":"#00ffff","strokeWidth":1.6,"clip":true},
"encoding":{"x":{"field":"t","type":"quantitative","scale":{"domain":[-9.55,57.45],"nice":false,"zero":false},"axis":{"orient":"bottom","values":[0,10,20,30,40,50],"tickSize":-8,"labels":false,"title":null}},
"y":{"field":"d","type":"quantitative","scale":{"domain":[436,2977],"nice":false,"zero":false},"axis":{"orient":"left","values":[1000,2000],"tickSize":-7,"labelPadding":17,"title":null}}}},
{"transform":[{"filter":"datum.t === 0"}],"mark":{"type":"point","opacity":0},
"encoding":{"x":{"field":"t","type":"quantitative","scale":{"domain":[-9.55,57.45],"nice":false,"zero":false},"axis":{"orient":"bottom","values":[-8,-6,-4,-2,0,2,4,6,8,10,12,14,16,18,20,22,24,26,28,30,32,34,36,38,40,42,44,46,48,50,52,54,56],"tickSize":-4,"labels":false,"title":null}},
"y":{"field":"d","type":"quantitative","scale":{"domain":[436,2977],"nice":false,"zero":false},"axis":{"orient":"left","values":[600,800,1000,1200,1400,1600,1800,2000,2200,2400,2600,2800],"tickSize":-3.5,"labels":false,"title":null}}}},
{"transform":[{"filter":"datum.t === 0"}],"mark":{"type":"point","opacity":0},
"encoding":{"x":{"field":"t","type":"quantitative","scale":{"domain":[-9.55,57.45],"nice":false,"zero":false},"axis":{"orient":"top","values":[0,10,20,30,40,50],"tickSize":-8,"labels":false,"title":null}},
"y":{"field":"d","type":"quantitative","scale":{"domain":[436,2977],"nice":false,"zero":false},"axis":{"orient":"right","values":[1000,2000],"tickSize":-7,"labels":false,"title":null}}}},
{"transform":[{"filter":"datum.t === 0"}],"mark":{"type":"point","opacity":0},
"encoding":{"x":{"field":"t","type":"quantitative","scale":{"domain":[-9.55,57.45],"nice":false,"zero":false},"axis":{"orient":"top","values":[-8,-6,-4,-2,0,2,4,6,8,10,12,14,16,18,20,22,24,26,28,30,32,34,36,38,40,42,44,46,48,50,52,54,56],"tickSize":-4,"labels":false,"title":"TH3","titleX":567,"titleY":16,"titleAlign":"left","titleBaseline":"alphabetic"}},
"y":{"field":"d","type":"quantitative","scale":{"domain":[436,2977],"nice":false,"zero":false},"axis":{"orient":"right","values":[600,800,1000,1200,1400,1600,1800,2000,2200,2400,2600,2800],"tickSize":-3.5,"labels":false,"title":null}}}}
],
"resolve":{"axis":{"x":"independent","y":"independent"}}},
{"width":603,"height":89.6,
"layer":[
{"mark":{"type":"line","color":"#ff00ff","strokeWidth":1.6,"clip":true},
"encoding":{"x":{"field":"t","type":"quantitative","scale":{"domain":[-9.55,57.45],"nice":false,"zero":false},"axis":{"orient":"bottom","values":[0,10,20,30,40,50],"tickSize":-8,"labels":true,"labelPadding":12,"title":"Time [sec] 0 = 2006/04/30 01:53:13.023","titleX":290.5,"titleY":35.5,"titleAlign":"center","titleBaseline":"alphabetic"}},
"y":{"field":"e","type":"quantitative","scale":{"domain":[2054,6045],"nice":false,"zero":false},"axis":{"orient":"left","values":[3000,4000,5000,6000],"tickSize":-7,"labelPadding":17,"title":null}}}},
{"transform":[{"filter":"datum.t === 0"}],"mark":{"type":"point","opacity":0},
"encoding":{"x":{"field":"t","type":"quantitative","scale":{"domain":[-9.55,57.45],"nice":false,"zero":false},"axis":{"orient":"bottom","values":[-8,-6,-4,-2,0,2,4,6,8,10,12,14,16,18,20,22,24,26,28,30,32,34,36,38,40,42,44,46,48,50,52,54,56],"tickSize":-4,"labels":false,"title":null}},
"y":{"field":"e","type":"quantitative","scale":{"domain":[2054,6045],"nice":false,"zero":false},"axis":{"orient":"left","values":[2200,2400,2600,2800,3000,3200,3400,3600,3800,4000,4200,4400,4600,4800,5000,5200,5400,5600,5800,6000],"tickSize":-3.5,"labels":false,"title":null}}}},
{"transform":[{"filter":"datum.t === 0"}],"mark":{"type":"point","opacity":0},
"encoding":{"x":{"field":"t","type":"quantitative","scale":{"domain":[-9.55,57.45],"nice":false,"zero":false},"axis":{"orient":"top","values":[0,10,20,30,40,50],"tickSize":-8,"labels":false,"title":null}},
"y":{"field":"e","type":"quantitative","scale":{"domain":[2054,6045],"nice":false,"zero":false},"axis":{"orient":"right","values":[3000,4000,5000,6000],"tickSize":-7,"labels":false,"title":null}}}},
{"transform":[{"filter":"datum.t === 0"}],"mark":{"type":"point","opacity":0},
"encoding":{"x":{"field":"t","type":"quantitative","scale":{"domain":[-9.55,57.45],"nice":false,"zero":false},"axis":{"orient":"top","values":[-8,-6,-4,-2,0,2,4,6,8,10,12,14,16,18,20,22,24,26,28,30,32,34,36,38,40,42,44,46,48,50,52,54,56],"tickSize":-4,"labels":false,"title":"TH0123","titleX":548,"titleY":16,"titleAlign":"left","titleBaseline":"alphabetic"}},
"y":{"field":"e","type":"quantitative","scale":{"domain":[2054,6045],"nice":false,"zero":false},"axis":{"orient":"right","values":[2200,2400,2600,2800,3000,3200,3400,3600,3800,4000,4200,4400,4600,4800,5000,5200,5400,5600,5800,6000],"tickSize":-3.5,"labels":false,"title":null}}}}
],
"resolve":{"axis":{"x":"independent","y":"independent"}}}
],
"resolve":{"scale":{"x":"independent","y":"independent"},"axis":{"x":"independent","y":"independent"}}
}
